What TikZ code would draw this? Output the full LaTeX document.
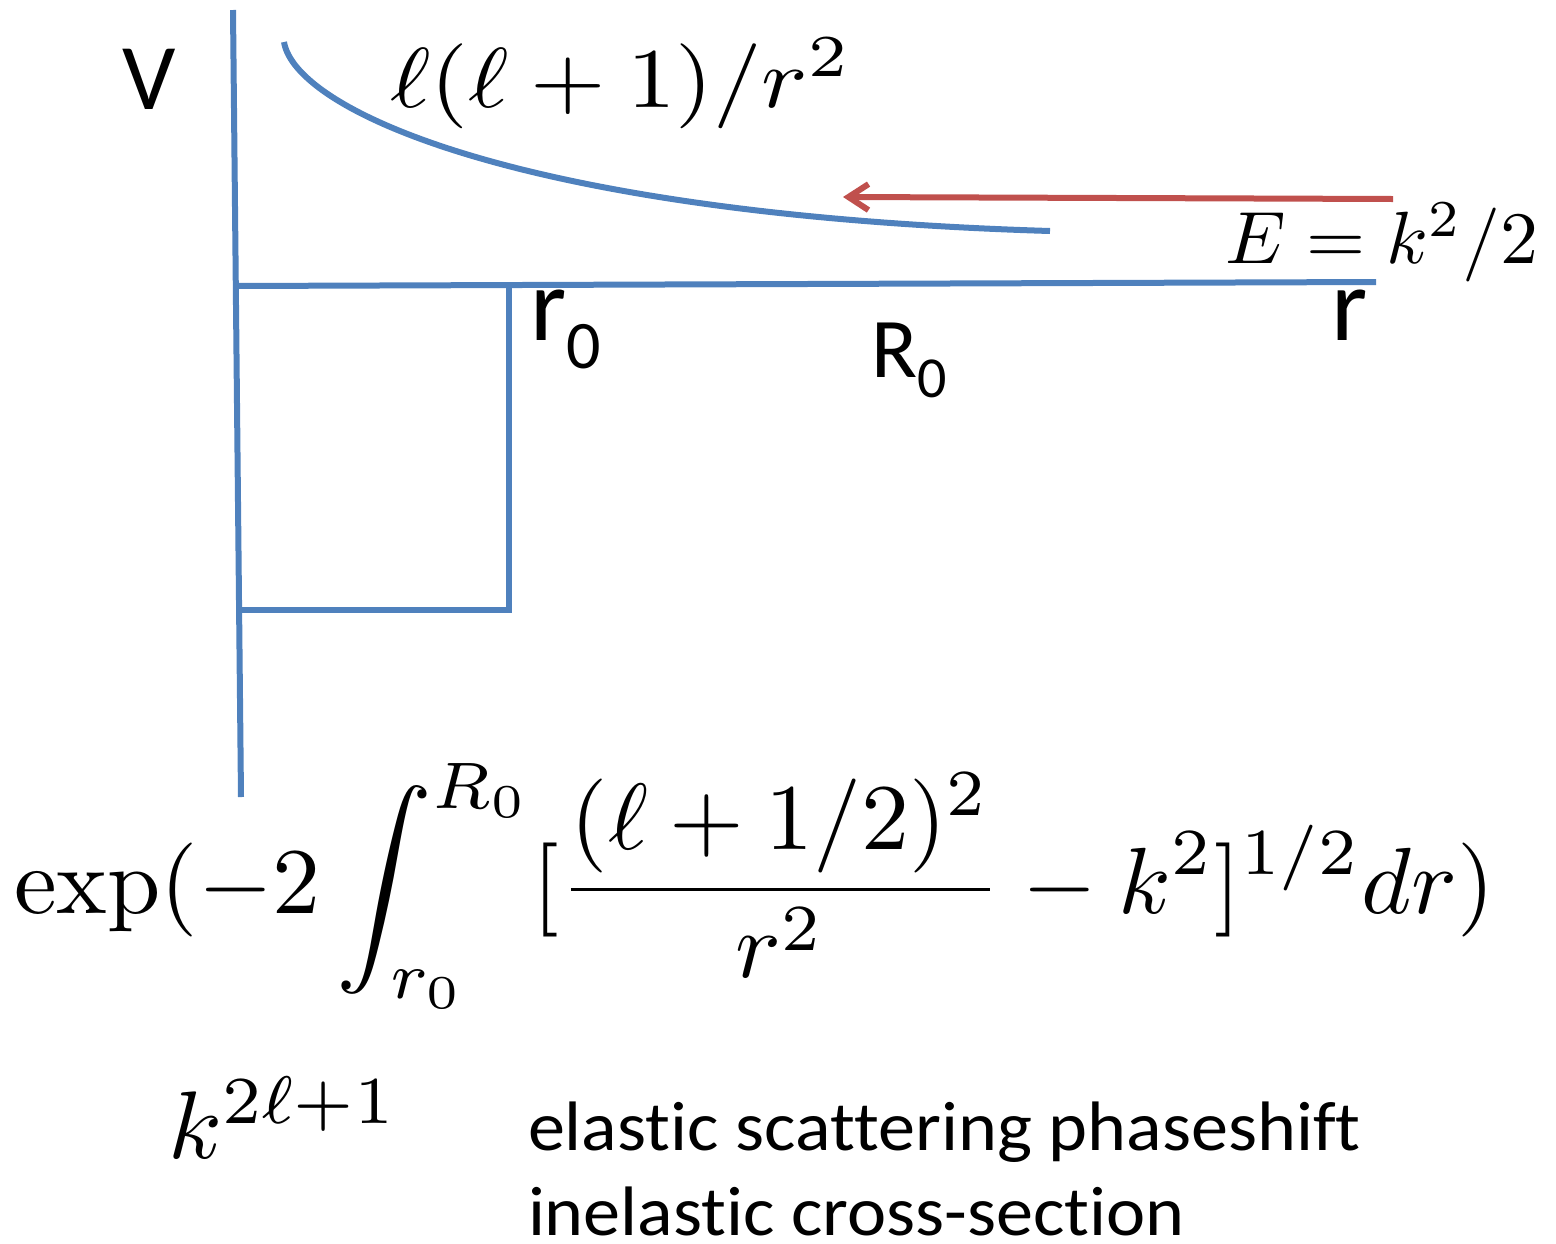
\documentclass[tikz,border=0pt]{standalone}
\usepackage{fontspec}
\usepackage{graphicx}
\newfontfamily\carlito[Ligatures={NoCommon,NoRare,NoDiscretionary,NoContextual}]{Carlito}
\usetikzlibrary{arrows.meta}
\definecolor{axisblue}{RGB}{79,129,189}
\definecolor{arrowred}{RGB}{192,80,77}
\tikzset{
  bluestroke/.style={draw=axisblue, line width=6pt},
  redstroke/.style={draw=arrowred, line width=6pt, -{Straight Barb[length=20pt,width=26pt]}},
  lbl/.style={inner sep=0pt, outer sep=0pt, font=\carlito},
  mth/.style={inner sep=0pt, outer sep=0pt, anchor=base west}
}
\begin{document}
\begin{tikzpicture}[x=1pt,y=-1pt]
\useasboundingbox (0,0) rectangle (1556,1243);
% axes and well
\coordinate (vtop) at (233,10);
\coordinate (vbot) at (241,797);
\coordinate (hleft) at (235,286);
\coordinate (hright) at (1376,282);
\coordinate (wtop) at (509,285);
\coordinate (wbot) at (509,610);
\coordinate (wleft) at (239,610);
\draw[bluestroke] (vtop) -- (vbot);
\draw[bluestroke] (hleft) -- (hright);
\draw[bluestroke] (wtop) -- (wbot) -- (wleft);
% centrifugal barrier
\coordinate (cstart) at (284,42);
\coordinate (cend) at (1050,231);
\draw[bluestroke] (cstart) .. controls (295,110) and (520,215) .. (cend);
% incoming energy arrow
\coordinate (atail) at (1393,199);
\coordinate (ahead) at (843,197);
\draw[redstroke] (atail) -- (ahead);
% labels
\node[lbl, anchor=base] (V) at (149,109) {\fontsize{94}{94}\selectfont V};
\node[lbl, anchor=base west] (r0) at (530,340) {\fontsize{104}{104}\selectfont r\raisebox{-28pt}{\fontsize{68}{68}\selectfont 0}};
\node[lbl, anchor=base west] (R0) at (871,377) {\fontsize{85}{85}\selectfont R\raisebox{-20pt}{\fontsize{58}{58}\selectfont 0}};
\node[lbl, anchor=base west] (rax) at (1331,340) {\fontsize{104}{104}\selectfont r};
% formulas
\node[mth] (barrier) at (390,107) {\scalebox{9.7}[8.5]{$\ell(\ell+1)/r^2$}};
\node[mth] (energy) at (1225,263) {\scalebox{7.6}[7.4]{$E=k^2/2$}};
\node[mth] (wkb) at (14,913) {\scalebox{9.6}[9.4]{$\displaystyle \exp(-2\int_{r_0}^{R_0}[\frac{(\ell+1/2)^2}{r^2}-k^2]^{1/2}dr)$}};
\node[mth] (kpow) at (168,1158) {\scalebox{9.8}[9.6]{$k^{2\ell+1}$}};
\node[lbl, anchor=base west] (t1) at (528,1150) {\scalebox{1.06}[1]{\fontsize{70}{70}\selectfont elastic scattering phaseshift}};
\node[lbl, anchor=base west] (t2) at (528,1235) {\scalebox{1.06}[1]{\fontsize{70}{70}\selectfont inelastic cross-section}};
\end{tikzpicture}
\end{document}
